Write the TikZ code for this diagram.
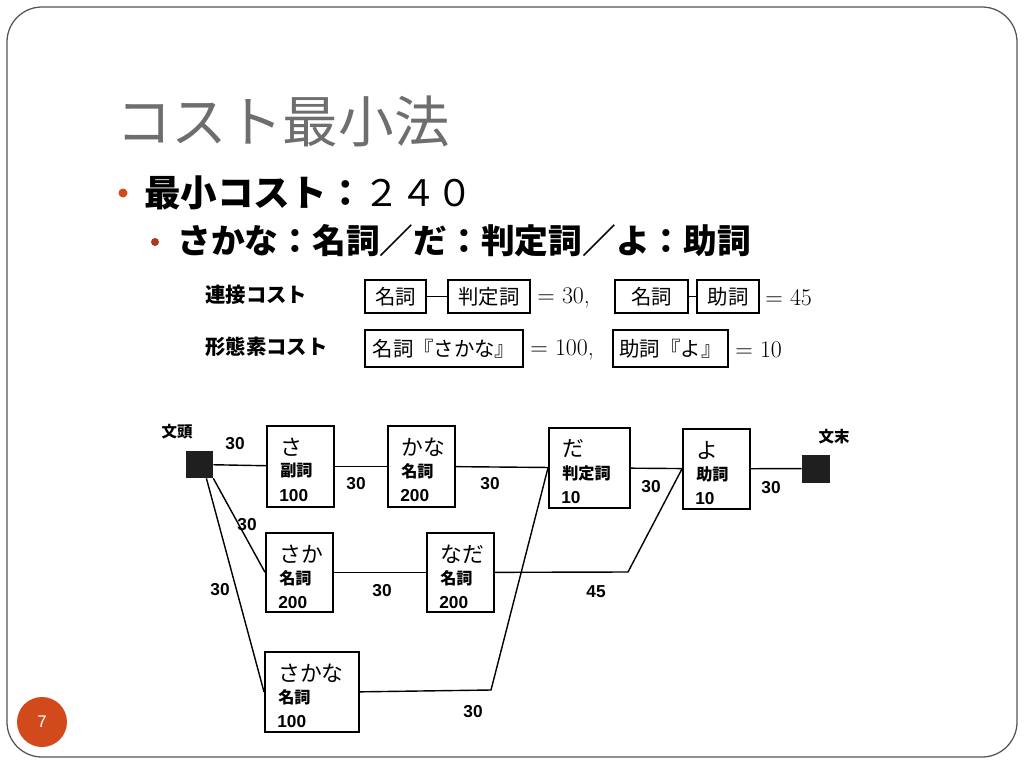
\documentclass[tikz,border=0pt]{standalone}
\usepackage{fontspec}
\newfontfamily\jp{Noto Sans CJK JP}
\newfontfamily\arial{Liberation Sans}
\usetikzlibrary{calc}
\newlength{\pxu}
\setlength{\pxu}{0.025cm}
\definecolor{accent}{HTML}{D24A1B}
\definecolor{accenttwo}{HTML}{A63A1E}
\definecolor{titlegray}{HTML}{6E6E6E}
\definecolor{framegray}{HTML}{555555}
\tikzset{
  latbox/.style={draw, line width=1.2pt, inner sep=0pt},
  latkana/.style={anchor=west, inner sep=0pt, font=\jp\fontsize{15.5}{15.5}\selectfont},
  latpos/.style={anchor=west, inner sep=0pt, font=\jp\bfseries\fontsize{11.5}{11.5}\selectfont},
  latcost/.style={anchor=west, inner sep=0pt, font=\arial\bfseries\fontsize{12.3}{12.3}\selectfont},
  elabel/.style={inner sep=0pt, font=\arial\bfseries\fontsize{12.3}{12.3}\selectfont},
  edge/.style={line width=1pt},
  term/.style={fill=black!88, minimum width=27\pxu, minimum height=27\pxu, inner sep=0pt},
  termlabel/.style={inner sep=0pt, font=\jp\bfseries\fontsize{11}{11}\selectfont},
  cbox/.style={draw, line width=0.9pt, inner sep=0pt, minimum height=33\pxu, font=\jp\fontsize{14.5}{14.5}\selectfont},
  ctext/.style={anchor=west, inner sep=0pt, font=\fontsize{17}{17}\selectfont},
  clabel/.style={anchor=west, inner sep=0pt, font=\jp\bfseries\fontsize{14.5}{14.5}\selectfont},
}
\newcommand\latnode[8]{%
  \node[latbox, minimum width=#4\pxu, minimum height=#5\pxu, anchor=north west] (#1) at (#2,#3) {};
  \node[latkana] (#1-k) at ($(#1.north west)+(14,22)$) {#6};
  \node[latpos] (#1-p) at ($(#1.north west)+(14,46)$) {#7};
  \node[latcost] (#1-c) at ($(#1.north west)+(13,71)$) {#8};
}
\begin{document}
\begin{tikzpicture}[x=0.025cm, y=-0.025cm]
\useasboundingbox (0,0) rectangle (1024,768);
\fill[white] (0,0) rectangle (1024,768);
% slide frame
\draw[framegray, line width=0.9pt, rounded corners=35\pxu] (7,7) rectangle (1017,757);
% page number
\node[circle, fill=accent, minimum size=50\pxu, inner sep=0pt, text=white, font=\arial\fontsize{12}{12}\selectfont] (pnum) at (42,722) {7};
% title
\node[anchor=west, inner sep=0pt, text=titlegray, font=\jp\fontsize{39.5}{39.5}\selectfont] (title) at (116,121) {コスト最小法};
% bullets
\node[circle, fill=accent, minimum size=9\pxu, inner sep=0pt] (b1) at (123,193) {};
\node[anchor=west, inner sep=0pt, font=\jp\fontsize{26}{26}\selectfont] (l1) at (144,193) {\bfseries 最小コスト：{\mdseries ２４０}};
\node[circle, fill=accenttwo, minimum size=8\pxu, inner sep=0pt] (b2) at (155,242) {};
\node[anchor=west, inner sep=0pt, font=\jp\bfseries\fontsize{24}{24}\selectfont] (l2) at (177,241) {さかな：名詞／だ：判定詞／よ：助詞};
% cost definitions
\node[clabel] (rl1) at (205,295) {連接コスト};
\node[cbox, minimum width=61\pxu] (cn1) at (395.5,296.5) {名詞};
\node[cbox, minimum width=82\pxu] (ch1) at (489,296.5) {判定詞};
\draw[line width=0.8pt] (cn1) -- (ch1);
\node[ctext] (eq1) at (537,298) {$=$ 30,};
\node[cbox, minimum width=73\pxu] (cn2) at (651.5,296.5) {名詞};
\node[cbox, minimum width=62\pxu] (cj2) at (728,296.5) {助詞};
\draw[line width=0.8pt] (cn2) -- (cj2);
\node[ctext] (eq2) at (765,298) {$=$ 45};
\node[clabel] (rl2) at (205,347) {形態素コスト};
\node[cbox, minimum width=158\pxu, minimum height=37\pxu] (cm1) at (444,348.5) {名詞『さかな』};
\node[ctext] (eq3) at (530,350) {$=$ 100,};
\node[cbox, minimum width=115\pxu, minimum height=37\pxu] (cm2) at (670.5,348.5) {助詞『よ』};
\node[ctext] (eq4) at (735,350) {$=$ 10};
% lattice
\node[term] (bos) at (199.5,464.5) {};
\node[termlabel] (bosl) at (177,432) {文頭};
\node[term, minimum width=28\pxu, minimum height=28\pxu] (eos) at (816,468.5) {};
\node[termlabel] (eosl) at (834,437) {文末};
\latnode{sa}{266}{425}{67}{81}{さ}{副詞}{100}
\latnode{kana}{387}{425}{67}{81}{かな}{名詞}{200}
\latnode{da}{548}{427}{81}{80}{だ}{判定詞}{10}
\latnode{yo}{682}{428}{67}{80}{よ}{助詞}{10}
\latnode{saka}{265}{532}{67}{79}{さか}{名詞}{200}
\latnode{nada}{426}{532}{67}{79}{なだ}{名詞}{200}
\latnode{sakana}{264}{651}{94}{80}{さかな}{名詞}{100}
\coordinate (c45) at (628,572);
\coordinate (c30) at (491,690);
\draw[edge] (bos) -- (sa);
\draw[edge] (sa) -- (kana);
\draw[edge] (kana) -- (da);
\draw[edge] (da) -- (yo);
\draw[edge] (yo) -- (eos);
\draw[edge] (bos.south east) -- (saka.west);
\draw[edge] ($(bos.south)!0.5!(bos.south east)$) -- (sakana.west);
\draw[edge] (saka) -- (nada);
\draw[edge] (nada.east) -- (c45) -- (yo.west);
\draw[edge] (sakana.east) -- (c30) -- (da.west);
% edge labels
\node[elabel] (e1) at (235,444) {30};
\node[elabel] (e2) at (356,484) {30};
\node[elabel] (e3) at (490,484) {30};
\node[elabel] (e4) at (651,487) {30};
\node[elabel] (e5) at (771,488) {30};
\node[elabel] (e6) at (247,525) {30};
\node[elabel] (e7) at (220,590) {30};
\node[elabel] (e8) at (382,591) {30};
\node[elabel] (e9) at (596,592) {45};
\node[elabel] (e10) at (473,712) {30};
\end{tikzpicture}
\end{document}
